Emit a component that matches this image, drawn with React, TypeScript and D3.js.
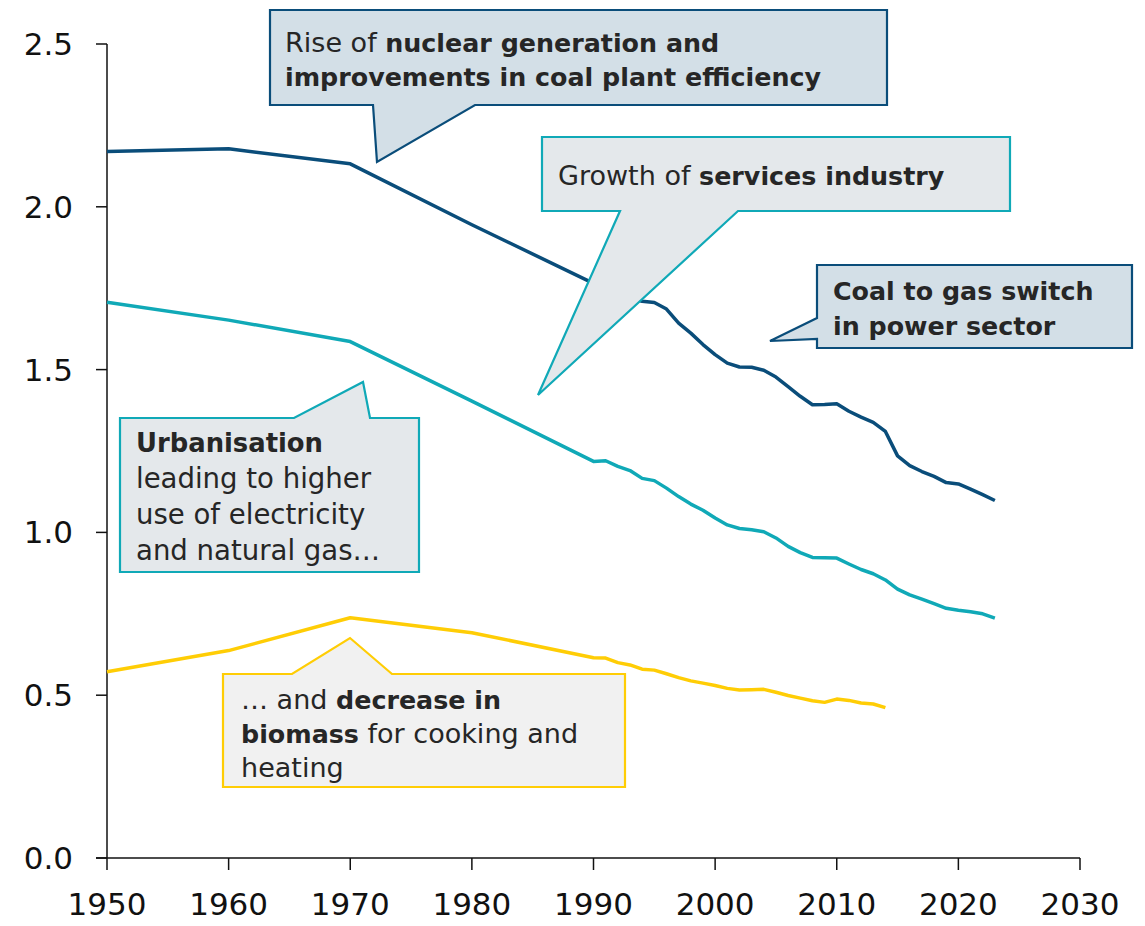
import React from "react";
import * as d3 from "d3";

const W = 1145;
const H = 926;

const xTicks = [1950, 1960, 1970, 1980, 1990, 2000, 2010, 2020, 2030];
const yTicks = [0, 0.5, 1.0, 1.5, 2.0, 2.5];

const seriesYears = [
  1950, 1960, 1970, 1980, 1990, 1991, 1992, 1993, 1994, 1995, 1996, 1997,
  1998, 1999, 2000, 2001, 2002, 2003, 2004, 2005, 2006, 2007, 2008, 2009,
  2010, 2011, 2012, 2013, 2014, 2015, 2016, 2017, 2018, 2019, 2020, 2021,
  2022, 2023,
];

const darkValues = [
  2.17, 2.178, 2.132, 1.945, 1.765, 1.75, 1.735, 1.72, 1.71, 1.706, 1.686,
  1.643, 1.612, 1.577, 1.546, 1.52, 1.508, 1.507, 1.498, 1.477, 1.448, 1.418,
  1.392, 1.393, 1.395, 1.372, 1.354, 1.338, 1.31, 1.235, 1.205, 1.187, 1.172,
  1.153, 1.149, 1.133, 1.116, 1.098,
];

const tealValues = [
  1.707, 1.652, 1.586, 1.403, 1.218, 1.22, 1.203, 1.19, 1.166, 1.159, 1.136,
  1.11, 1.087, 1.068, 1.044, 1.023, 1.012, 1.008, 1.002, 0.983, 0.957, 0.938,
  0.923, 0.922, 0.921, 0.903, 0.886, 0.873, 0.854, 0.826, 0.808, 0.795, 0.781,
  0.767, 0.761, 0.756, 0.75, 0.737,
];

const yellowYears = [
  1950, 1960, 1970, 1980, 1990, 1991, 1992, 1993, 1994, 1995, 1996, 1997,
  1998, 1999, 2000, 2001, 2002, 2003, 2004, 2005, 2006, 2007, 2008, 2009,
  2010, 2011, 2012, 2013, 2014,
];
const yellowValues = [
  0.572, 0.637, 0.738, 0.692, 0.615, 0.614, 0.6, 0.593, 0.58, 0.577, 0.566,
  0.554, 0.544, 0.537, 0.53, 0.521, 0.516, 0.517, 0.518, 0.509, 0.499, 0.491,
  0.483, 0.478, 0.488, 0.484, 0.476, 0.473, 0.462,
];

const DARK = "#0A4D7A";
const TEAL = "#10A9B7";
const YELLOW = "#FFCD05";
const TEXT = "#262626";
const FONT = "'DejaVu Sans', Lato, sans-serif";

type Seg = { t: string; b?: boolean };

function Lines({ x, lines, y0, dy, size }: { x: number; lines: Seg[][]; y0: number; dy: number; size: number }) {
  return (
    <g fontFamily={FONT} fill={TEXT}>
      {lines.map((segs, i) => (
        <text key={i} x={x} y={y0 + i * dy} xmlSpace="preserve">
          {segs.map((s, j) => (
            <tspan
              key={j}
              fontWeight={s.b ? 700 : 400}
              fontSize={s.b ? size * 0.975 : size * 1.04}
            >
              {s.t}
            </tspan>
          ))}
        </text>
      ))}
    </g>
  );
}

export default function App() {
  const x = d3.scaleLinear().domain([1950, 2030]).range([107, 1080]);
  const y = d3.scaleLinear().domain([0, 2.5]).range([858, 44]);

  const line = d3
    .line<[number, number]>()
    .x((d) => x(d[0]))
    .y((d) => y(d[1]));

  const dark = line(seriesYears.map((yr, i) => [yr, darkValues[i]] as [number, number]));
  const teal = line(seriesYears.map((yr, i) => [yr, tealValues[i]] as [number, number]));
  const yellow = line(yellowYears.map((yr, i) => [yr, yellowValues[i]] as [number, number]));

  const fs = 26;

  return (
    <svg
      width={W}
      height={H}
      style={{ position: "absolute", left: 0, top: 0, background: "#fff" }}
    >
      <rect width={W} height={H} fill="#fff" />
      {/* axes */}
      <g stroke="#111" strokeWidth={1.5}>
        <line x1={x(1950)} x2={x(1950)} y1={y(2.5)} y2={y(0)} />
        <line x1={x(1950) - 11} x2={x(2030)} y1={y(0)} y2={y(0)} />
        {yTicks.map((t) => (
          <line key={t} x1={x(1950) - 11} x2={x(1950)} y1={y(t)} y2={y(t)} />
        ))}
        {xTicks.map((t) => (
          <line key={t} x1={x(t)} x2={x(t)} y1={y(0)} y2={y(0) + 12} />
        ))}
      </g>
      <g fontFamily={FONT} fontSize={31} fill="#111">
        {yTicks.map((t) => (
          <text key={t} x={73} y={y(t) + 11} textAnchor="end">
            {t.toFixed(1)}
          </text>
        ))}
        {xTicks.map((t) => (
          <text key={t} x={x(t)} y={915} textAnchor="middle">
            {t}
          </text>
        ))}
      </g>

      {/* data lines */}
      <g fill="none" strokeWidth={3.5} strokeLinejoin="round">
        <path d={yellow ?? ""} stroke={YELLOW} />
        <path d={teal ?? ""} stroke={TEAL} />
        <path d={dark ?? ""} stroke={DARK} />
      </g>

      {/* callouts */}
      <g strokeWidth={2.2} strokeLinejoin="miter">
        <path
          d="M270,10 H887 V105 H475 L377,162 L373,105 H270 Z"
          fill="#D3DFE7"
          stroke={DARK}
        />
        <path
          d="M542,137 H1010 V211 H738 L538,395 L620,211 H542 Z"
          fill="#E4E8EB"
          stroke={TEAL}
        />
        <path
          d="M817,265 H1132 V348 H817 V339 L770,341 L817,318 Z"
          fill="#D3DFE7"
          stroke={DARK}
        />
        <path
          d="M120,418 H294 L363,382 L370,418 H419 V572 H120 Z"
          fill="#E4E8EB"
          stroke={TEAL}
        />
        <path
          d="M223,674 H292 L350,638 L392,674 H625 V787 H223 Z"
          fill="#F1F1F1"
          stroke={YELLOW}
        />
      </g>

      <Lines
        x={285}
        y0={52}
        dy={34}
        size={fs}
        lines={[
          [{ t: "Rise of " }, { t: "nuclear generation and", b: true }],
          [{ t: "improvements in coal plant efficiency", b: true }],
        ]}
      />
      <Lines
        x={558}
        y0={185}
        dy={34}
        size={fs}
        lines={[[{ t: "Growth of " }, { t: "services industry", b: true }]]}
      />
      <Lines
        x={833}
        y0={300}
        dy={35}
        size={fs}
        lines={[
          [{ t: "Coal to gas switch", b: true }],
          [{ t: "in power sector", b: true }],
        ]}
      />
      <Lines
        x={136}
        y0={452}
        dy={36}
        size={26.5}
        lines={[
          [{ t: "Urbanisation", b: true }],
          [{ t: "leading to higher" }],
          [{ t: "use of electricity" }],
          [{ t: "and natural gas…" }],
        ]}
      />
      <Lines
        x={241}
        y0={709}
        dy={34}
        size={fs}
        lines={[
          [{ t: "… and " }, { t: "decrease in", b: true }],
          [{ t: "biomass", b: true }, { t: " for cooking and" }],
          [{ t: "heating" }],
        ]}
      />
    </svg>
  );
}
